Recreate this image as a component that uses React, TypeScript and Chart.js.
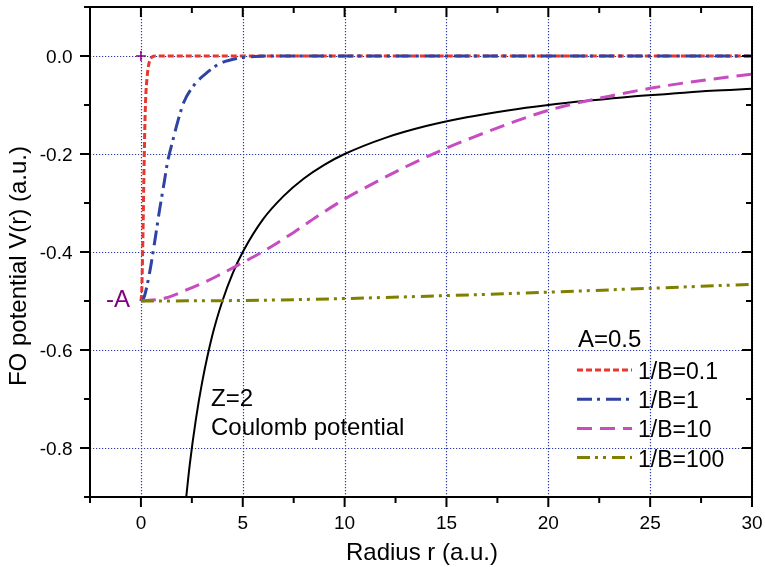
import React, { useEffect, useRef } from "react";
import { Chart, registerables } from "chart.js";

Chart.register(...registerables);

// ---------- data ----------
const X_TICKS = [0, 5, 10, 15, 20, 25, 30];
const X_MINOR = [-2.5, 2.5, 7.5, 12.5, 17.5, 22.5, 27.5];
const Y_TICKS = [0, -0.2, -0.4, -0.6, -0.8];
const Y_MINOR = [0.1, -0.1, -0.3, -0.5, -0.7, -0.9];

const R_COULOMB = [2.16, 2.4, 2.7, 3, 3.5, 4, 4.5, 5, 6, 7, 8, 9, 10, 12, 14, 16, 18, 20, 22, 24, 26, 28, 30];
const V_COULOMB = [-0.926, -0.833, -0.741, -0.667, -0.571, -0.5, -0.444, -0.4, -0.333, -0.286, -0.25, -0.222, -0.2, -0.167, -0.143, -0.125, -0.111, -0.1, -0.091, -0.083, -0.077, -0.071, -0.067];

const R_B01 = [0, 0.04, 0.08, 0.11, 0.14, 0.17, 0.2, 0.24, 0.3, 0.37, 0.45, 0.55, 0.7, 30];
const V_B01 = [-0.5, -0.48, -0.41, -0.34, -0.26, -0.19, -0.13, -0.08, -0.045, -0.02, -0.008, -0.002, 0, 0];

const R_B1 = [0, 0.15, 0.4, 0.65, 0.9, 1.15, 1.3, 1.55, 1.8, 2.1, 2.6, 3.3, 3.9, 4.7, 5.6, 7, 30];
const V_B1 = [-0.5, -0.493, -0.448, -0.386, -0.318, -0.256, -0.218, -0.175, -0.135, -0.095, -0.06, -0.032, -0.015, -0.005, -0.001, 0, 0];

const R_B10 = [0, 1.2, 2.2, 3, 3.7, 4.8, 6, 7.5, 8.7, 10, 11, 13, 15, 16.3, 18.4, 20, 21, 23, 25, 27, 30];
const V_B10 = [-0.5, -0.494, -0.478, -0.464, -0.45, -0.426, -0.399, -0.36, -0.326, -0.292, -0.269, -0.226, -0.188, -0.166, -0.133, -0.111, -0.1, -0.082, -0.066, -0.053, -0.037];

const R_B100 = [0, 5, 10, 15, 20, 25, 30];
const V_B100 = [-0.5, -0.499, -0.495, -0.489, -0.482, -0.474, -0.466];

const LEGEND_LABELS = ["1/B=0.1", "1/B=1", "1/B=10", "1/B=100"];

// ---------- styles ----------
const FONT = '"Liberation Sans", Arial, Helvetica, sans-serif';
const GRID_COLOR = "#2a3aa8";
const PURPLE = "#800080";
const RED = "#e8372e";
const BLUE = "#2e43a3";
const MAGENTA = "#c64cbf";
const OLIVE = "#808000";

const toPts = (xs: number[], ys: number[]) => xs.map((x, i) => ({ x, y: ys[i] }));

const decor = {
  id: "decor",
  beforeDatasetsDraw(chart: any) {
    const { ctx, chartArea: a, scales } = chart;
    const x = scales.x, y = scales.y;
    ctx.save();
    ctx.strokeStyle = GRID_COLOR;
    ctx.lineWidth = 1.2;
    ctx.setLineDash([1.2, 1.8]);
    X_TICKS.forEach((v) => {
      const px = Math.round(x.getPixelForValue(v)) + 0.5;
      ctx.beginPath();
      ctx.moveTo(px, a.top);
      ctx.lineTo(px, a.bottom);
      ctx.stroke();
    });
    Y_TICKS.forEach((v) => {
      const py = Math.round(y.getPixelForValue(v)) + 0.5;
      ctx.beginPath();
      ctx.moveTo(a.left, py);
      ctx.lineTo(a.right, py);
      ctx.stroke();
    });
    ctx.restore();
  },
  afterDatasetsDraw(chart: any) {
    const { ctx, chartArea: a, scales } = chart;
    const x = scales.x, y = scales.y;
    ctx.save();
    ctx.setLineDash([]);
    ctx.strokeStyle = "#000";
    ctx.lineWidth = 2;
    ctx.strokeRect(a.left, a.top, a.right - a.left, a.bottom - a.top);
    const MAJ = 10, MIN = 6;
    const seg = (x1: number, y1: number, x2: number, y2: number) => {
      ctx.beginPath();
      ctx.moveTo(x1, y1);
      ctx.lineTo(x2, y2);
      ctx.stroke();
    };
    X_TICKS.forEach((v) => {
      const px = x.getPixelForValue(v);
      seg(px, a.bottom, px, a.bottom + MAJ);
      seg(px, a.top, px, a.top + MAJ);
    });
    X_MINOR.forEach((v) => {
      const px = x.getPixelForValue(v);
      seg(px, a.bottom, px, a.bottom + MIN);
      seg(px, a.top, px, a.top + MIN);
    });
    Y_TICKS.forEach((v) => {
      const py = y.getPixelForValue(v);
      seg(a.left - MAJ, py, a.left, py);
      seg(a.right - MAJ, py, a.right, py);
    });
    Y_MINOR.forEach((v) => {
      const py = y.getPixelForValue(v);
      seg(a.left - MIN, py, a.left, py);
      seg(a.right - MIN, py, a.right, py);
    });

    // tick labels
    ctx.fillStyle = "#000";
    ctx.font = `19px ${FONT}`;
    ctx.textBaseline = "alphabetic";
    ctx.textAlign = "center";
    X_TICKS.forEach((v) => {
      ctx.fillText(String(v), x.getPixelForValue(v), a.bottom + 32);
    });
    ctx.textAlign = "right";
    Y_TICKS.forEach((v) => {
      ctx.fillText(v.toFixed(1), a.left - 17.5, y.getPixelForValue(v) + 7);
    });

    // axis titles
    ctx.font = `24px ${FONT}`;
    ctx.textAlign = "center";
    ctx.fillText("Radius r (a.u.)", (a.left + a.right) / 2 + 1, 560);
    ctx.save();
    ctx.translate(26, 266);
    ctx.rotate(-Math.PI / 2);
    ctx.fillText("FO potential V(r) (a.u.)", 0, 0);
    ctx.restore();

    // purple cross at origin and -A label
    const ox = x.getPixelForValue(0), oy = y.getPixelForValue(0);
    ctx.strokeStyle = PURPLE;
    ctx.lineWidth = 1.5;
    seg(ox - 5, oy, ox + 5, oy);
    seg(ox, oy - 5, ox, oy + 5);
    ctx.fillStyle = PURPLE;
    ctx.font = `24px ${FONT}`;
    ctx.textAlign = "right";
    ctx.fillText("-A", ox - 11, y.getPixelForValue(-0.5) + 6);

    // annotations
    ctx.fillStyle = "#000";
    ctx.font = `24px ${FONT}`;
    ctx.textAlign = "left";
    ctx.fillText("Z=2", 211, 406);
    ctx.fillText("Coulomb potential", 211, 435);
    ctx.fillText("A=0.5", 578, 347);

    // legend
    const dsets = chart.data.datasets.filter((d: any) => LEGEND_LABELS.includes(d.label));
    dsets.sort((p: any, q: any) => LEGEND_LABELS.indexOf(p.label) - LEGEND_LABELS.indexOf(q.label));
    ctx.font = `23px ${FONT}`;
    dsets.forEach((d: any, i: number) => {
      const ly = 370 + i * 29.2;
      ctx.save();
      ctx.strokeStyle = d.borderColor;
      ctx.lineWidth = d.borderWidth;
      ctx.setLineDash(d.borderDash || []);
      seg(577, ly, 632, ly);
      ctx.restore();
      ctx.fillStyle = "#000";
      ctx.fillText(d.label, 638, ly + 9);
    });
    ctx.restore();
  },
};

export default function App() {
  const ref = useRef<HTMLCanvasElement>(null);
  useEffect(() => {
    document.body.style.margin = "0";
    const canvas = ref.current!;
    const chart = new Chart(canvas, {
      type: "line",
      data: {
        datasets: [
          {
            label: "Coulomb",
            data: toPts(R_COULOMB, V_COULOMB),
            borderColor: "#000",
            borderWidth: 2,
            cubicInterpolationMode: "monotone",
            order: 4,
          },
          {
            label: "1/B=0.1",
            data: toPts(R_B01, V_B01),
            borderColor: RED,
            borderWidth: 3,
            borderDash: [6, 3],
            cubicInterpolationMode: "monotone",
            order: 3,
          },
          {
            label: "1/B=1",
            data: toPts(R_B1, V_B1),
            borderColor: BLUE,
            borderWidth: 3,
            borderDash: [15, 5, 3, 6],
            cubicInterpolationMode: "monotone",
            order: 2,
          },
          {
            label: "1/B=10",
            data: toPts(R_B10, V_B10),
            borderColor: MAGENTA,
            borderWidth: 3,
            borderDash: [15, 8],
            cubicInterpolationMode: "monotone",
            order: 1,
          },
          {
            label: "1/B=100",
            data: toPts(R_B100, V_B100),
            borderColor: OLIVE,
            borderWidth: 3,
            borderDash: [13, 5, 3, 5, 3, 6],
            cubicInterpolationMode: "monotone",
            order: 0,
          },
        ] as any,
      },
      options: {
        responsive: false,
        animation: false,
        devicePixelRatio: 1,
        layout: { padding: { left: 90, top: 7, right: 13, bottom: 70 } },
        elements: { point: { radius: 0 }, line: { fill: false } },
        scales: {
          x: { type: "linear", min: -2.5, max: 30, display: false },
          y: { type: "linear", min: -0.9, max: 0.1, display: false },
        },
        plugins: { legend: { display: false }, tooltip: { enabled: false } },
      },
      plugins: [decor],
    });
    return () => chart.destroy();
  }, []);
  return (
    <div style={{ width: 765, height: 567 }}>
      <canvas ref={ref} width={765} height={567} style={{ display: "block" }} />
    </div>
  );
}
